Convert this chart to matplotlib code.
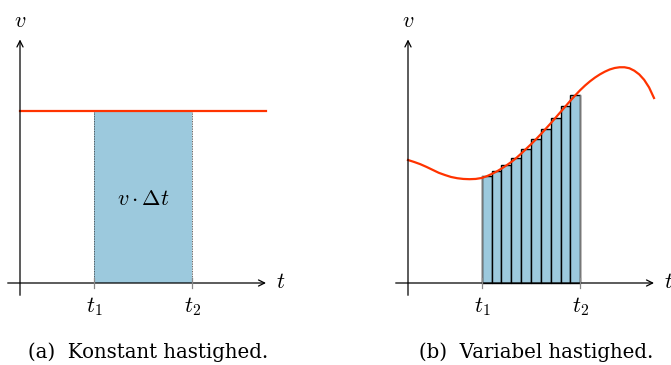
import numpy as np
import matplotlib
matplotlib.use("Agg")
import matplotlib.pyplot as plt

plt.rcParams['mathtext.fontset'] = 'cm'

# ---------------- data ----------------
t1, t2 = 3.0, 7.0
v_const = 7.0
t_end = 10.0
n_bars = 10

# variable speed curve (t, v)
curve_t = [0.0, 0.25, 0.5, 0.75, 1.0, 1.25, 1.5, 1.75, 2.0, 2.25, 2.5, 2.75,
           3.0, 3.2, 3.4, 3.6, 3.8, 4.0, 4.2, 4.4, 4.6, 4.8, 5.0, 5.2, 5.4,
           5.6, 5.8, 6.0, 6.2, 6.4, 6.6, 6.8, 7.0, 7.2, 7.4, 7.6, 7.8, 8.0,
           8.2, 8.4, 8.6, 8.8, 9.0, 9.2, 9.4, 9.6, 9.8, 10.0]
curve_v = [5.00, 4.92, 4.83, 4.72, 4.60, 4.48, 4.39, 4.31, 4.26, 4.23, 4.22, 4.23,
           4.27, 4.34, 4.43, 4.53, 4.65, 4.78, 4.92, 5.08, 5.26, 5.45, 5.64, 5.84, 6.05,
           6.27, 6.49, 6.72, 6.95, 7.18, 7.41, 7.63, 7.84, 8.03, 8.20, 8.35, 8.48, 8.59,
           8.68, 8.74, 8.77, 8.77, 8.73, 8.63, 8.48, 8.26, 7.95, 7.52]
# bar heights (midpoint values)
bar_v = [4.36, 4.55, 4.78, 5.09, 5.45, 5.84, 6.26, 6.72, 7.18, 7.64]

tick_labels = [r'$t_1$', r'$t_2$']
area_label = r'$v\cdot\Delta t$'
captions = ['(a)  Konstant hastighed.', '(b)  Variabel hastighed.']

RED = '#ff3300'
BLUE = '#9cc9dd'

W, H = 671, 365
S = 24.6  # px per unit
fig = plt.figure(figsize=(W / 100, H / 100), dpi=100)


def make_ax(ox, oy):
    xlo, xhi, ylo, yhi = -0.8, 10.7, -1.5, 11.3
    ax = fig.add_axes([(ox + xlo * S) / W, (H - oy + ylo * S) / H,
                       (xhi - xlo) * S / W, (yhi - ylo) * S / H])
    ax.set_xlim(xlo, xhi)
    ax.set_ylim(ylo, yhi)
    ax.axis('off')
    return ax


def draw_axes(ax):
    ax.annotate('', xy=(t_end, 0), xytext=(-0.5, 0),
                arrowprops=dict(arrowstyle='->', lw=0.9, color='black',
                                shrinkA=0, shrinkB=0, mutation_scale=11), zorder=5)
    ax.annotate('', xy=(0, 9.9), xytext=(0, -0.5),
                arrowprops=dict(arrowstyle='->', lw=0.9, color='black',
                                shrinkA=0, shrinkB=0, mutation_scale=11), zorder=5)
    ax.text(10.6, -0.2, r'$t$', fontsize=16, ha='center', va='baseline')
    ax.text(0, 10.4, r'$v$', fontsize=16, ha='center', va='baseline')
    for tv, lab in zip([t1, t2], tick_labels):
        ax.plot([tv, tv], [-0.22, 0.22], color='#888888', lw=0.9, zorder=6)
        ax.text(tv, -1.18, lab, fontsize=16, ha='center', va='baseline')


# ---------- panel (a) ----------
axa = make_ax(20, 283)
axa.fill_between([t1, t2], 0, v_const, color=BLUE, lw=0, zorder=1)
axa.plot([t1, t1], [0, v_const], color='#333333', lw=0.6, ls=(0, (1, 1)), zorder=2)
axa.plot([t2, t2], [0, v_const], color='#333333', lw=0.6, ls=(0, (1, 1)), zorder=2)
axa.plot([0, t_end], [v_const, v_const], color=RED, lw=1.6, zorder=4)
axa.text((t1 + t2) / 2, 3.17, area_label, fontsize=16, ha='center', va='baseline')
draw_axes(axa)

# ---------- panel (b) ----------
axb = make_ax(408, 283)
edges = np.linspace(t1, t2, n_bars + 1)[:-1]
axb.bar(edges, bar_v, width=(t2 - t1) / n_bars, align='edge', color=BLUE,
        edgecolor='black', lw=1.0, zorder=2)
axb.plot([t1, t1], [0, bar_v[0]], color='#777777', lw=1.0, zorder=3)
axb.plot([t2, t2], [0, bar_v[-1]], color='#777777', lw=1.0, zorder=3)
axb.plot(curve_t, curve_v, color=RED, lw=1.6, zorder=4, solid_joinstyle='round')
draw_axes(axb)

fig.text(148.5 / W, (H - 358) / H, captions[0], fontsize=14.2, family='DejaVu Serif',
         ha='center', va='baseline')
fig.text(536 / W, (H - 358) / H, captions[1], fontsize=14.2, family='DejaVu Serif',
         ha='center', va='baseline')

fig.savefig('out.png', dpi=100)
